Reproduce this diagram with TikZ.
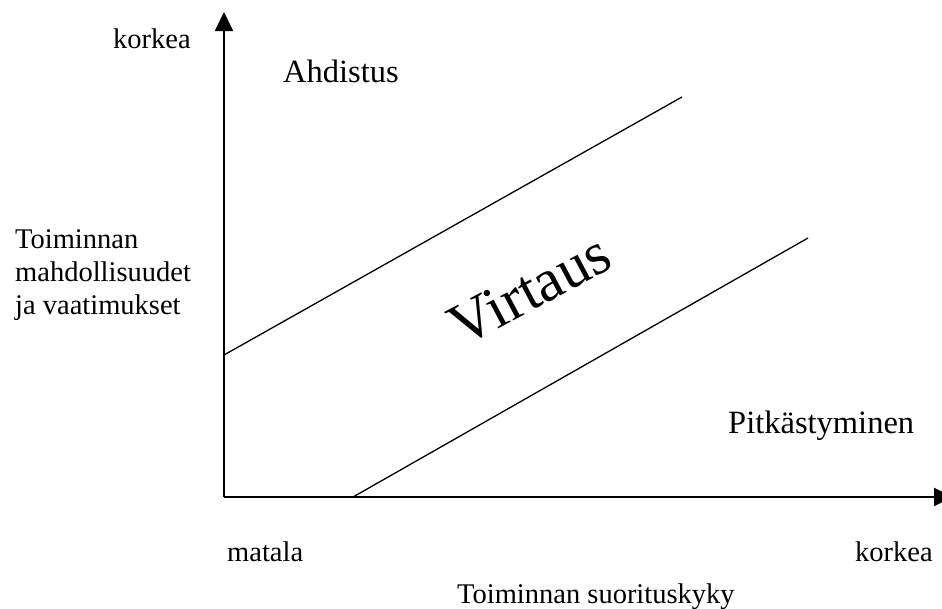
\documentclass[tikz,border=0pt]{standalone}
\usepackage{fontspec}
\setmainfont{Liberation Serif}
\usetikzlibrary{arrows.meta}
\begin{document}
\begin{tikzpicture}[x=1pt,y=-1pt,
  axis/.style={line width=2pt,-{Triangle[length=19pt,width=18pt]}},
  band/.style={line width=1.3pt},
  lbl/.style={inner sep=0pt,anchor=base west,font=\fontsize{28.5}{33}\selectfont},
  zone/.style={inner sep=0pt,anchor=base west,font=\fontsize{32.5}{38}\selectfont}]
\useasboundingbox (0,0) rectangle (942,608);
% axes
\coordinate (O) at (224,497);
\coordinate (ytip) at (224,12);
\coordinate (xtip) at (953,497);
\draw[axis] (O) -- (ytip);
\draw[axis] (O) -- (xtip);
% flow channel boundaries
\coordinate (u1) at (224,355);
\coordinate (u2) at (682,97);
\coordinate (l1) at (353,497);
\coordinate (l2) at (808,238);
\draw[band] (u1) -- (u2);
\draw[band] (l1) -- (l2);
% labels
\node[lbl] (ytop) at (113,48) {korkea};
\node[lbl,align=left] (ylabel) at (15,314)
  {Toiminnan\\mahdollisuudet\\ja vaatimukset};
\node[lbl] (xlow) at (227,561) {matala};
\node[lbl] (xhigh) at (855,561) {korkea};
\node[lbl] (xlabel) at (457,603) {Toiminnan suorituskyky};
\node[zone] (anx) at (283,82) {Ahdistus};
\node[zone] (bore) at (728,433) {Pitkästyminen};
\node[inner sep=0pt,rotate=28,font=\fontsize{60}{70}\selectfont] (flow) at (530,290) {Virtaus};
\end{tikzpicture}
\end{document}
